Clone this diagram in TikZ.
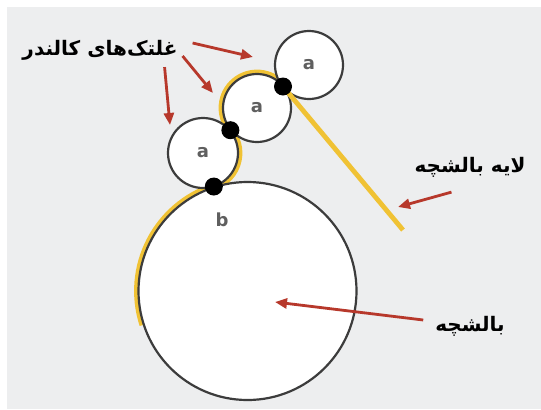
\documentclass[tikz,border=0pt]{standalone}
\usepackage{fontspec}
\usepackage{tikz}
\usetikzlibrary{arrows.meta, positioning, calc}
\setmainfont{DejaVu Sans}
\newfontfamily\arabicfont[Script=Arabic]{DejaVu Sans}
\TeXXeTstate=1
\definecolor{paper}{RGB}{237, 238, 239}
\definecolor{rimgray}{RGB}{60, 60, 60}
\definecolor{lettergray}{RGB}{95, 95, 95}
\definecolor{fabric}{RGB}{240, 194, 52}
\definecolor{pointer}{RGB}{183, 56, 43}

\begin{document}
\begin{tikzpicture}[x=0.5pt, y=0.5pt,
  roll/.style={circle, draw=rimgray, line width=1.1pt, fill=white, inner sep=0pt,
    font=\small\bfseries, text=lettergray},
  contact/.style={circle, fill=black, inner sep=0pt, minimum size=9pt},
  fabricline/.style={draw=fabric, line width=2.4pt},
  caption/.style={font=\arabicfont\bfseries\fontsize{10}{12}\selectfont},
  arr/.style={draw=pointer, line width=1.4pt, -{Triangle[length=6pt, width=5pt]}}]
  \useasboundingbox (0,0) rectangle (541,409);
  \fill[white] (0,0) rectangle (541,409);
  \fill[paper] (7,0) rectangle (541,402);

  % centres of the rolls
  \coordinate (cbig) at (247.5,118);
  \coordinate (clow) at (203,256);
  \coordinate (cmid) at (257,301);
  \coordinate (ctop) at (309,344);
  \coordinate (fabend) at (403,179);

  % the fabric running over the rolls
  \draw[fabricline] ([shift={(198:111)}]cbig) arc[start angle=198, end angle=108, radius=111];
  \draw[fabricline] ([shift={(-72:37)}]clow) arc[start angle=-72, end angle=40, radius=37];
  \draw[fabricline] ([shift={(220:36)}]cmid) arc[start angle=220, end angle=40, radius=36];

  \node[roll, minimum size=109pt] (big) at (cbig) {};
  \node[roll, minimum size=35pt] (rlow) at (clow) {a};
  \node[roll, minimum size=34pt] (rmid) at (cmid) {a};
  \node[roll, minimum size=34pt] (rtop) at (ctop) {a};

  \node[contact] (nipb) at ($(clow)!0.243!(cbig)$) {};
  \node[contact] (nip1) at ($(clow)!0.507!(cmid)$) {};
  \draw[fabricline] ($(cmid)!0.5!(ctop)$) -- (fabend);
  \node[contact] (nip2) at ($(cmid)!0.5!(ctop)$) {};

  \node[font=\small\bfseries, text=lettergray] (lblb) at (222,189) {b};

  % labels
  \node[caption] (rollers) at (100,359) {\beginR غلتک‌های کالندر\endR};
  \node[caption] (layer) at (470,242) {\beginR لایه بالشچه\endR};
  \node[caption] (bolster) at (470,83) {\beginR بالشچه\endR};

  \coordinate (tiptop) at (253,352);
  \coordinate (tipmid) at (213,316);
  \coordinate (tiplow) at (170,284);
  \coordinate (tiplayer) at (398,202);
  \coordinate (tipbig) at (275,107);

  \draw[arr] ($(rollers.east)+(8,7)$) -- (tiptop);
  \draw[arr] ($(rollers.east)+(-2,-6)$) -- (tipmid);
  \draw[arr] ($(rollers.south east)+(-20,0)$) -- (tiplow);
  \draw[arr] ($(layer.south west)+(44,-8)$) -- (tiplayer);
  \draw[arr] ($(bolster.west)+(-5,6)$) -- (tipbig);
\end{tikzpicture}
\end{document}
